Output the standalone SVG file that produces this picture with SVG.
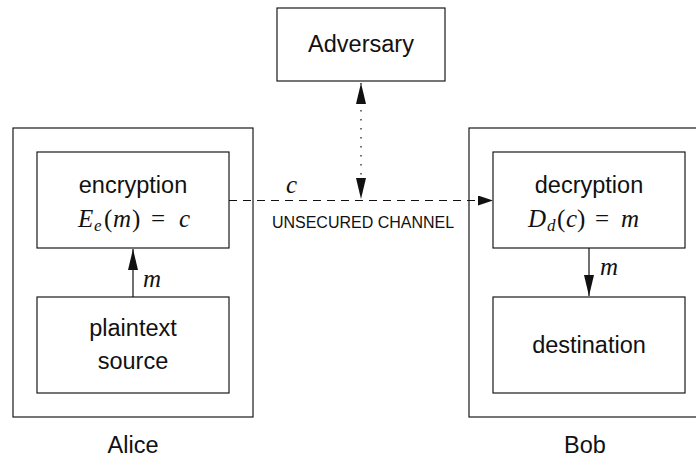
<svg xmlns="http://www.w3.org/2000/svg" width="696" height="458" viewBox="0 0 696 458">
<style>
  .box { fill: #fff; stroke: #1a1a1a; stroke-width: 1.2; }
  .lbl { font-family: "Liberation Sans", Arial, sans-serif; font-size: 23.5px; fill: #111; text-anchor: middle; }
  .small { font-family: "Liberation Sans", Arial, sans-serif; font-size: 16px; fill: #111; text-anchor: middle; }
  .math { font-family: "Liberation Serif", "Times New Roman", serif; font-size: 25px; fill: #111; }
  .it { font-style: italic; }
  .sub { font-style: italic; font-size: 17px; }
  .line { stroke: #111; stroke-width: 1.2; fill: none; }
  .dash { stroke-dasharray: 8 6; }
  .dot { stroke-dasharray: 1.5 7.5; }
</style>
<defs>
  <marker id="tall" markerUnits="userSpaceOnUse" markerWidth="21" markerHeight="10" refX="21" refY="5" orient="auto-start-reverse" viewBox="0 0 21 10">
    <path d="M0,0 L21,5 L0,10 z" fill="#111"/>
  </marker>
  <marker id="short" markerUnits="userSpaceOnUse" markerWidth="15" markerHeight="10" refX="15" refY="5" orient="auto" viewBox="0 0 15 10">
    <path d="M0,0 L15,5 L0,10 z" fill="#111"/>
  </marker>
</defs>
<rect width="696" height="458" fill="#fff"/>

<g id="alice">
  <rect class="box" x="13" y="128" width="240" height="289"/>
  <text class="lbl" x="133" y="453">Alice</text>
</g>
<g id="bob">
  <rect class="box" x="469" y="128" width="240" height="289"/>
  <text class="lbl" x="585" y="453">Bob</text>
</g>
<g id="adversary">
  <rect class="box" x="277" y="8" width="168" height="73"/>
  <text class="lbl" x="361" y="52">Adversary</text>
</g>
<g id="encryption">
  <rect class="box" x="37" y="152" width="192" height="96"/>
  <text class="lbl" x="133" y="193">encryption</text>
  <text class="math"><tspan class="it" x="78" y="227">E</tspan><tspan class="sub" x="94" y="231">e</tspan><tspan x="104" y="227">(</tspan><tspan class="it" x="113" y="227">m</tspan><tspan x="132" y="227">)</tspan><tspan x="151" y="227">=</tspan><tspan class="it" x="179" y="227">c</tspan></text>
</g>
<g id="plaintext">
  <rect class="box" x="37" y="297" width="192" height="96"/>
  <text class="lbl" x="133" y="336">plaintext</text>
  <text class="lbl" x="133" y="369">source</text>
</g>
<g id="decryption">
  <rect class="box" x="493" y="152" width="192" height="96"/>
  <text class="lbl" x="589" y="193">decryption</text>
  <text class="math"><tspan class="it" x="528" y="227">D</tspan><tspan class="sub" x="547" y="231">d</tspan><tspan x="557" y="227">(</tspan><tspan class="it" x="566" y="227">c</tspan><tspan x="577" y="227">)</tspan><tspan x="595" y="227">=</tspan><tspan class="it" x="621" y="227">m</tspan></text>
</g>
<g id="destination">
  <rect class="box" x="493" y="297" width="192" height="96"/>
  <text class="lbl" x="589" y="353">destination</text>
</g>

<g id="connectors">
  <line class="line" x1="133" y1="297" x2="133" y2="249" marker-end="url(#tall)"/>
  <line class="line" x1="589" y1="248" x2="589" y2="296" marker-end="url(#tall)"/>
  <line class="line dash" x1="229" y1="200.5" x2="493" y2="200.5" marker-end="url(#short)"/>
  <line class="line dot" x1="361" y1="83" x2="361" y2="199" marker-start="url(#tall)" marker-end="url(#tall)"/>
  <text class="math it" x="143" y="287">m</text>
  <text class="math it" x="600" y="275">m</text>
  <text class="math it" x="286" y="193">c</text>
  <text class="small" x="363" y="228">UNSECURED CHANNEL</text>
</g>
</svg>
